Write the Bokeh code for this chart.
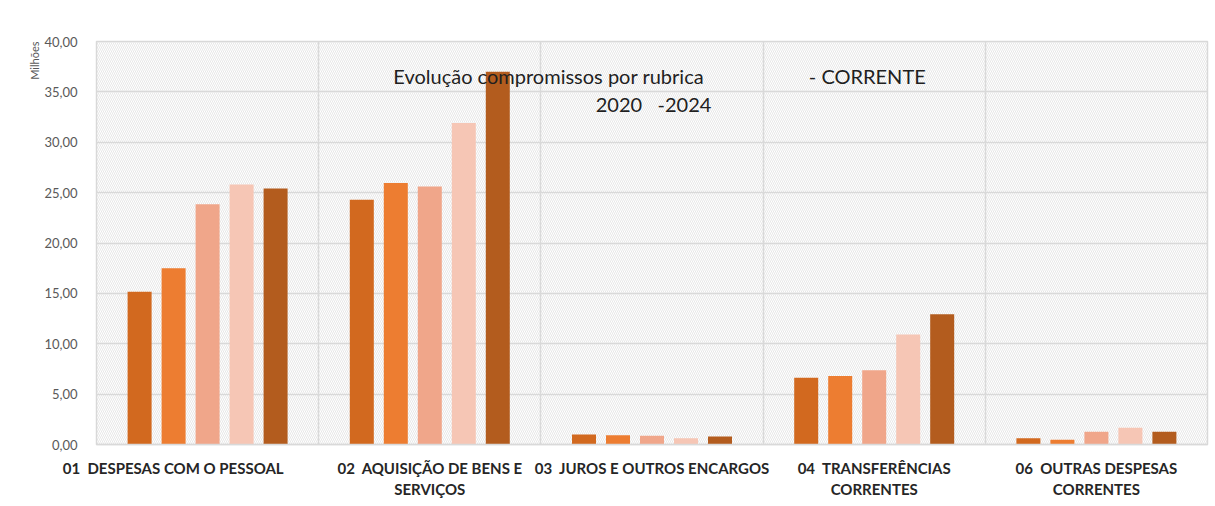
from bokeh.plotting import figure
from bokeh.models import (ColumnDataSource, Range1d, FixedTicker, CustomJSTickFormatter,
                          BoxAnnotation, Label, Title)
from bokeh.embed import file_html
from bokeh.resources import INLINE

NB = "\u00a0"
categories = ["01" + NB * 2 + "DESPESAS COM O PESSOAL",
              "02" + NB * 2 + "AQUISIÇÃO DE BENS E\nSERVIÇOS",
              "03" + NB * 2 + "JUROS E OUTROS ENCARGOS",
              "04" + NB * 2 + "TRANSFERÊNCIAS\nCORRENTES",
              "06" + NB * 2 + "OUTRAS DESPESAS\nCORRENTES"]
years = ["2020", "2021", "2022", "2023", "2024"]
v2020 = [15.15, 24.30, 1.00, 6.63, 0.63]
v2021 = [17.50, 25.95, 0.93, 6.80, 0.47]
v2022 = [23.85, 25.60, 0.87, 7.37, 1.27]
v2023 = [25.80, 31.90, 0.63, 10.93, 1.67]
v2024 = [25.40, 37.00, 0.80, 12.93, 1.27]
series = [v2020, v2021, v2022, v2023, v2024]
colors = ["#D2691F", "#ED7D31", "#F0A68A", "#F6C6B5", "#B35C1E"]

FONT = "Lato"

p = figure(width=1212, height=501, output_backend="svg", toolbar_location=None,
           x_range=Range1d(0, len(categories)), y_range=Range1d(0, 40),
           min_border_left=96, min_border_right=5, min_border_top=41, min_border_bottom=54)

p.background_fill_color = "white"
p.border_fill_color = "white"
p.outline_line_color = "#d9d9d9"
p.outline_line_width = 1.5

# hatched plot background
bg = BoxAnnotation(left=0, right=len(categories), bottom=0, top=40, level="image",
                   fill_alpha=0, line_alpha=0, hatch_pattern="\\",
                   hatch_color="#d2d2d2", hatch_scale=4, hatch_weight=0.6, hatch_alpha=0.9)
p.add_layout(bg)

offsets = [-0.306, -0.153, 0.0, 0.153, 0.306]
for j, (vals, col) in enumerate(zip(series, colors)):
    xs = [i + 0.5 + offsets[j] for i in range(len(categories))]
    src = ColumnDataSource(dict(x=xs, top=vals))
    p.vbar(x="x", top="top", bottom=0, width=0.108, source=src,
           fill_color=col, line_color=None)

# axes
labels = list(categories)
labels[0] = labels[0] + NB * 19  # Excel shifts this long label to the left
p.xaxis.ticker = FixedTicker(ticks=[i + 0.5 for i in range(len(categories))])
p.xaxis.major_label_overrides = {i + 0.5: c for i, c in enumerate(labels)}
p.xaxis.major_label_text_font = FONT
p.xaxis.major_label_text_font_style = "bold"
p.xaxis.major_label_text_font_size = "15px"
p.xaxis.major_label_text_color = "#262626"
p.xaxis.major_label_standoff = 8
p.xaxis.major_tick_line_color = None
p.xaxis.minor_tick_line_color = None
p.xaxis.axis_line_color = "#d9d9d9"
p.xaxis.axis_line_width = 1.5

p.yaxis.ticker = FixedTicker(ticks=list(range(0, 45, 5)))
p.yaxis.formatter = CustomJSTickFormatter(code="return tick.toFixed(2).replace('.', ',');")
p.yaxis.major_label_text_font = FONT
p.yaxis.major_label_text_font_size = "13px"
p.yaxis.major_label_text_color = "#595959"
p.yaxis.major_label_standoff = 13
p.yaxis.major_tick_line_color = None
p.yaxis.minor_tick_line_color = None
p.yaxis.axis_line_color = None

# y axis title at the top of the axis
p.add_layout(Title(text="Milhões", align="right", text_font=FONT, text_font_size="11px",
                   text_font_style="normal", text_color="#595959", standoff=2), "left")

# grids
p.ygrid.grid_line_color = "#d9d9d9"
p.ygrid.grid_line_width = 1.5
p.xgrid.ticker = FixedTicker(ticks=list(range(0, len(categories) + 1)))
p.xgrid.grid_line_color = "#d9d9d9"
p.xgrid.grid_line_width = 1.5

# chart title inside plot
title_kw = dict(text_font=FONT, text_font_size="20px", text_color="#1f1f1f",
                text_align="center", text_baseline="middle")
p.add_layout(Label(x=2.035, y=36.6, text="Evolução compromissos por rubrica", **title_kw))
p.add_layout(Label(x=3.469, y=36.6, text="- CORRENTE", **title_kw))
p.add_layout(Label(x=2.507, y=33.8, text="2020" + NB * 3 + "-2024", **title_kw))

open("out.html", "w").write(file_html(p, INLINE))
